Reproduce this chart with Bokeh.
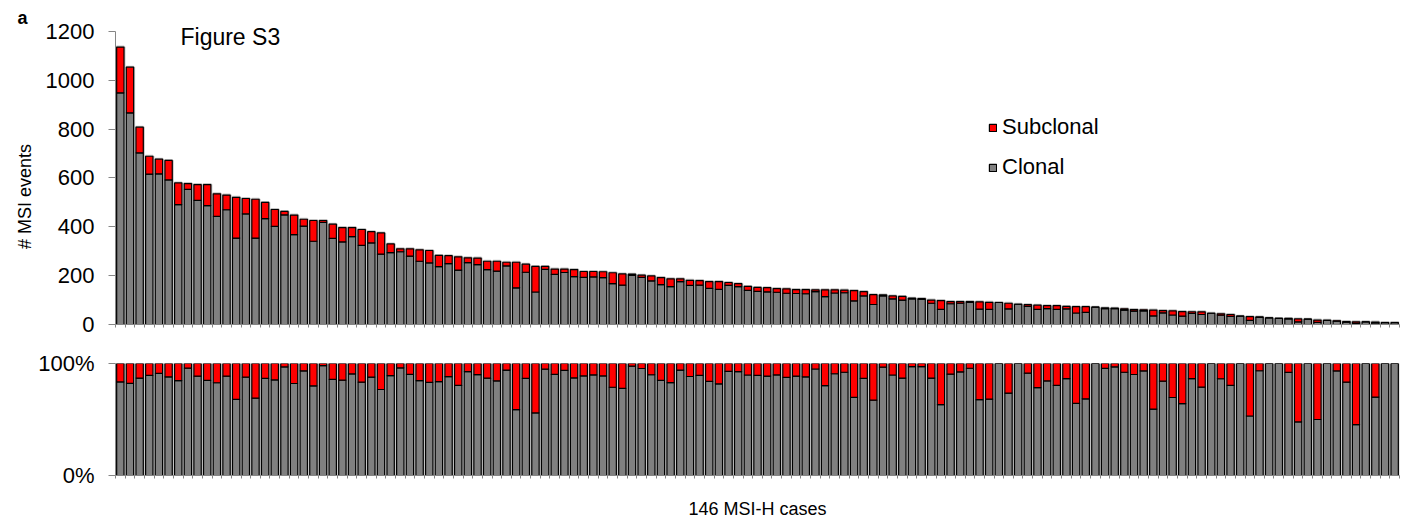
from bokeh.plotting import figure
from bokeh.models import ColumnDataSource, FixedTicker, Legend, LegendItem, Label, Range1d
from bokeh.layouts import column
from bokeh.embed import file_html
from bokeh.resources import INLINE

# ---- data (MSI events per case, sorted by total) ----
clonal = [949, 867, 703, 616, 617, 592, 491, 553, 508, 487,
          443, 470, 354, 453, 354, 434, 402, 449, 368, 403,
          341, 418, 353, 338, 360, 324, 334, 288, 294, 298,
          280, 259, 252, 237, 249, 223, 253, 245, 225, 219,
          240, 150, 214, 133, 226, 205, 213, 196, 193, 195,
          192, 167, 161, 201, 193, 179, 163, 155, 176, 160,
          161, 148, 144, 160, 155, 140, 136, 134, 132, 128,
          127, 126, 135, 114, 129, 130, 97, 117, 82, 117,
          105, 100, 105, 103, 87, 62, 85, 87, 90, 63,
          62, 90, 64, 83, 74, 62, 65, 62, 64, 47,
          50, 71, 65, 65, 59, 55, 56, 35, 48, 39,
          34, 45, 41, 46, 38, 33, 34, 17, 29, 27,
          25, 23, 11, 22, 9, 17, 14, 10, 5, 11,
          7, 8, 8]
subclonal = [187, 187, 105, 73, 60, 80, 89, 24, 65, 86,
             92, 60, 167, 63, 159, 66, 69, 14, 80, 28,
             85, 8, 58, 59, 37, 65, 46, 87, 36, 12,
             30, 47, 51, 46, 33, 54, 20, 27, 34, 40,
             15, 105, 33, 105, 12, 22, 14, 29, 24, 22,
             24, 45, 46, 5, 9, 20, 29, 32, 11, 21,
             19, 28, 32, 12, 12, 16, 16, 17, 15, 18,
             16, 17, 7, 28, 13, 11, 42, 18, 40, 4,
             12, 15, 3, 3, 13, 36, 9, 7, 4, 30,
             29, 0, 23, 0, 7, 17, 12, 15, 10, 26,
             23, 0, 3, 2, 5, 6, 4, 24, 9, 17,
             19, 7, 11, 0, 6, 8, 0, 15, 2, 0,
             0, 2, 12, 0, 9, 0, 1, 2, 6, 0,
             3, 0, 0]
series_names = ["Subclonal", "Clonal"]
top_ticks = [0, 200, 400, 600, 800, 1000, 1200]
pct_ticks = [0, 100]
pct_labels = {0: "0%", 100: "100%"}

n = len(clonal)
case = list(range(1, n + 1))
total = [c + s for c, s in zip(clonal, subclonal)]
clonal_pct = [100.0 * c / t for c, t in zip(clonal, total)]

src = ColumnDataSource(dict(x=case, clonal=clonal, total=total,
                            clonal_pct=clonal_pct, full=[100.0] * n))

FONT = "Liberation Sans"
AXIS_GREY = "#868686"
GREY = "#808080"
RED = "#FF0000"
BAR_W = 0.76
NBSP = "\u00a0"

def style_axes(p):
    p.xgrid.grid_line_color = None
    p.ygrid.grid_line_color = None
    p.outline_line_color = None
    for ax in (p.xaxis[0], p.yaxis[0]):
        ax.axis_line_color = AXIS_GREY
        ax.major_tick_line_color = AXIS_GREY
        ax.major_tick_in = 0
        ax.major_label_text_font = FONT
        ax.major_label_text_color = "black"
        ax.axis_label_text_font = FONT
        ax.axis_label_text_font_style = "normal"
        ax.axis_label_text_color = "black"
    p.yaxis.minor_tick_line_color = None
    # case boundaries as small ticks, no labels
    p.xaxis.ticker = FixedTicker(ticks=[], minor_ticks=[i + 0.5 for i in range(0, n + 1)])
    p.xaxis.minor_tick_line_color = AXIS_GREY
    p.xaxis.minor_tick_in = 0
    p.xaxis.minor_tick_out = 3
    p.yaxis.major_tick_out = 7
    p.yaxis.major_label_text_font_size = "22px"
    p.yaxis.major_label_standoff = 14

# ---------------- top panel: counts ----------------
p1 = figure(frame_width=1284, frame_height=306, output_backend="svg",
            toolbar_location=None, x_range=Range1d(0.5, n + 0.5),
            y_range=Range1d(0, 1253.2), min_border_left=115, min_border_right=25,
            min_border_top=18, min_border_bottom=16, background_fill_color="white")
style_axes(p1)
p1.yaxis.ticker = FixedTicker(ticks=top_ticks)
p1.yaxis.bounds = (0, 1200)
p1.yaxis.axis_label = "# MSI events" + NBSP * 10
p1.yaxis.axis_label_text_font_size = "18px"
p1.yaxis.axis_label_standoff = 8

p1.title.text = "a"
p1.title.align = "left"
p1.title.offset = -98
p1.title.standoff = -18
p1.title.text_font = FONT
p1.title.text_font_size = "18px"
p1.title.text_font_style = "bold"
p1.title.text_color = "black"

p1.vbar(x="x", bottom=0, top="total", width=BAR_W, source=src,
        fill_color=None, line_color="#c4c4c4", line_width=3)
r_gray = p1.vbar(x="x", bottom=0, top="clonal", width=BAR_W, source=src,
                 fill_color=GREY, line_color="black", line_width=1.2)
r_red = p1.vbar(x="x", bottom="clonal", top="total", width=BAR_W, source=src,
                fill_color=RED, line_color="black", line_width=1.2)

legend = Legend(items=[LegendItem(label=series_names[0], renderers=[r_red]),
                       LegendItem(label=series_names[1], renderers=[r_gray])],
                location=(873, 144), orientation="vertical",
                border_line_color=None, background_fill_alpha=0,
                padding=0, margin=0, spacing=14, glyph_width=9, glyph_height=9,
                label_height=25, label_standoff=5,
                label_text_font=FONT, label_text_font_size="22px",
                label_text_color="black")
p1.add_layout(legend, "center")

p1.add_layout(Label(x=7.23, y=1179, text="Figure S3", text_font=FONT,
                    text_font_size="23px", text_baseline="alphabetic",
                    text_color="black"))

# ---------------- bottom panel: percentages ----------------
p2 = figure(frame_width=1284, frame_height=112, output_backend="svg",
            toolbar_location=None, x_range=p1.x_range,
            y_range=Range1d(0, 100), min_border_left=115, min_border_right=25,
            min_border_top=23, min_border_bottom=43, background_fill_color="white")
style_axes(p2)
p2.yaxis.ticker = FixedTicker(ticks=pct_ticks)
p2.yaxis.major_label_overrides = pct_labels
p2.xaxis.axis_label = "146 MSI-H cases"
p2.xaxis.axis_label_text_font_size = "18px"
p2.xaxis.axis_label_standoff = 20

p2.vbar(x="x", bottom=0, top="full", width=BAR_W, source=src,
        fill_color=None, line_color="#c4c4c4", line_width=3)
p2.vbar(x="x", bottom=0, top="clonal_pct", width=BAR_W, source=src,
        fill_color=GREY, line_color="black", line_width=1.2)
p2.vbar(x="x", bottom="clonal_pct", top="full", width=BAR_W, source=src,
        fill_color=RED, line_color="black", line_width=1.2)

layout = column(p1, p2, spacing=0)
open("out.html", "w").write(file_html(layout, INLINE))
